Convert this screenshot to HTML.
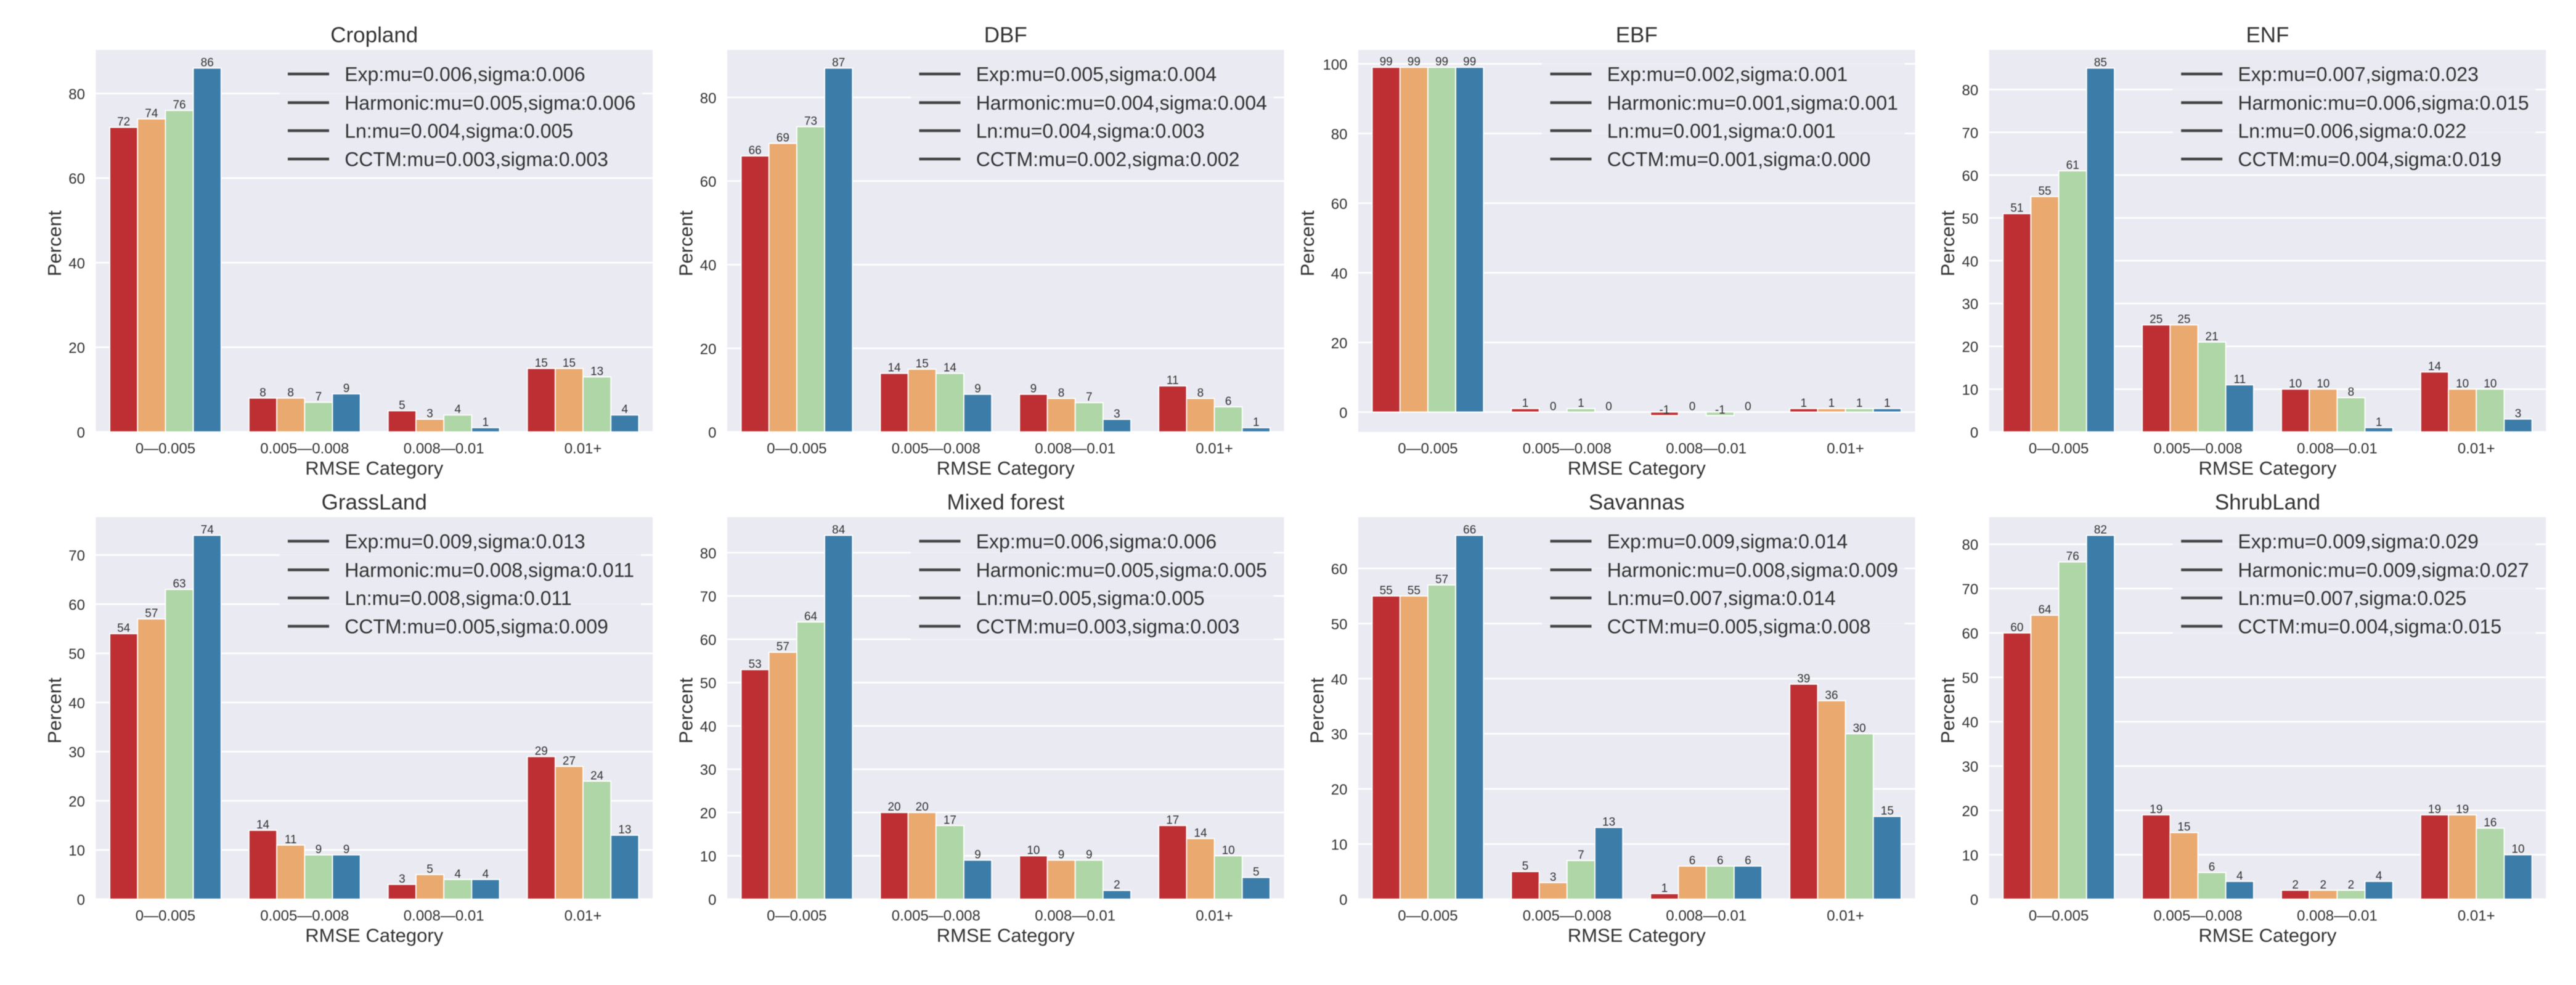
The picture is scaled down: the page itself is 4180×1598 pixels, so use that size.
<!DOCTYPE html>
<html lang="en">
<head>
<meta charset="utf-8">
<title>RMSE Category distributions by land cover</title>
<style>
html,body{margin:0;padding:0;background:#fff;}
#figure{display:block;width:4180px;height:1598px;font-family:"Liberation Sans",sans-serif;filter:blur(0.6px);}
text{fill:#333;font-family:"Liberation Sans",sans-serif;}
</style>
</head>
<body>
<svg id="figure" xmlns="http://www.w3.org/2000/svg" width="4180" height="1598" viewBox="0 0 4180 1598">
<rect x="0" y="0" width="4180" height="1598" fill="#ffffff"></rect>
</svg>
<script>
const categories = ["0—0.005", "0.005—0.008", "0.008—0.01", "0.01+"];
const seriesNames = ["Exp", "Harmonic", "Ln", "CCTM"];
const panelTitles = ["Cropland", "DBF", "EBF", "ENF", "GrassLand", "Mixed forest", "Savannas", "ShrubLand"];

const croplandValues = [[72, 8, 5, 15], [74, 8, 3, 15], [76, 7, 4, 13], [86, 9, 1, 4]];
const dbfValues = [[66, 14, 9, 11], [69, 15, 8, 8], [73, 14, 7, 6], [87, 9, 3, 1]];
const ebfValues = [[99, 1, -1, 1], [99, 0, 0, 1], [99, 1, -1, 1], [99, 0, 0, 1]];
const enfValues = [[51, 25, 10, 14], [55, 25, 10, 10], [61, 21, 8, 10], [85, 11, 1, 3]];
const grasslandValues = [[54, 14, 3, 29], [57, 11, 5, 27], [63, 9, 4, 24], [74, 9, 4, 13]];
const mixedForestValues = [[53, 20, 10, 17], [57, 20, 9, 14], [64, 17, 9, 10], [84, 9, 2, 5]];
const savannasValues = [[55, 5, 1, 39], [55, 3, 6, 36], [57, 7, 6, 30], [66, 13, 6, 15]];
const shrublandValues = [[60, 19, 2, 19], [64, 15, 2, 19], [76, 6, 2, 16], [82, 4, 4, 10]];
const panelValues = [croplandValues, dbfValues, ebfValues, enfValues, grasslandValues, mixedForestValues, savannasValues, shrublandValues];

const croplandTicks = [0, 20, 40, 60, 80];
const dbfTicks = [0, 20, 40, 60, 80];
const ebfTicks = [0, 20, 40, 60, 80, 100];
const enfTicks = [0, 10, 20, 30, 40, 50, 60, 70, 80];
const grasslandTicks = [0, 10, 20, 30, 40, 50, 60, 70];
const mixedForestTicks = [0, 10, 20, 30, 40, 50, 60, 70, 80];
const savannasTicks = [0, 10, 20, 30, 40, 50, 60];
const shrublandTicks = [0, 10, 20, 30, 40, 50, 60, 70, 80];
const panelTicks = [croplandTicks, dbfTicks, ebfTicks, enfTicks, grasslandTicks, mixedForestTicks, savannasTicks, shrublandTicks];

const croplandLegend = ["Exp:mu=0.006,sigma:0.006", "Harmonic:mu=0.005,sigma:0.006", "Ln:mu=0.004,sigma:0.005", "CCTM:mu=0.003,sigma:0.003"];
const dbfLegend = ["Exp:mu=0.005,sigma:0.004", "Harmonic:mu=0.004,sigma:0.004", "Ln:mu=0.004,sigma:0.003", "CCTM:mu=0.002,sigma:0.002"];
const ebfLegend = ["Exp:mu=0.002,sigma:0.001", "Harmonic:mu=0.001,sigma:0.001", "Ln:mu=0.001,sigma:0.001", "CCTM:mu=0.001,sigma:0.000"];
const enfLegend = ["Exp:mu=0.007,sigma:0.023", "Harmonic:mu=0.006,sigma:0.015", "Ln:mu=0.006,sigma:0.022", "CCTM:mu=0.004,sigma:0.019"];
const grasslandLegend = ["Exp:mu=0.009,sigma:0.013", "Harmonic:mu=0.008,sigma:0.011", "Ln:mu=0.008,sigma:0.011", "CCTM:mu=0.005,sigma:0.009"];
const mixedForestLegend = ["Exp:mu=0.006,sigma:0.006", "Harmonic:mu=0.005,sigma:0.005", "Ln:mu=0.005,sigma:0.005", "CCTM:mu=0.003,sigma:0.003"];
const savannasLegend = ["Exp:mu=0.009,sigma:0.014", "Harmonic:mu=0.008,sigma:0.009", "Ln:mu=0.007,sigma:0.014", "CCTM:mu=0.005,sigma:0.008"];
const shrublandLegend = ["Exp:mu=0.009,sigma:0.029", "Harmonic:mu=0.009,sigma:0.027", "Ln:mu=0.007,sigma:0.025", "CCTM:mu=0.004,sigma:0.015"];
const panelLegends = [croplandLegend, dbfLegend, ebfLegend, enfLegend, grasslandLegend, mixedForestLegend, savannasLegend, shrublandLegend];

const SERIES_COLORS = ["#BE2F33", "#EAAA6F", "#AFD6A6", "#3C7CA8"];
const PANEL_LEFTS = [155.5, 1180, 2204, 3227.7];
const PANEL_TOPS = [81, 839];
const PANEL_W = 903.5;
const PANEL_H = 619.7;
const LEGEND_ROWS = [39, 85.5, 131, 177];
const SVGNS = "http://www.w3.org/2000/svg";
const root = document.getElementById("figure");

function make(parent, tag, props, content) {
  const el = document.createElementNS(SVGNS, tag);
  for (const key in props) el.setAttribute(key, props[key]);
  if (content !== undefined) el.textContent = content;
  parent.appendChild(el);
  return el;
}
function slug(s) {
  return s.toLowerCase().replace(/[^a-z0-9]+/g, "-");
}
function yDomain(values) {
  const flat = values.flat();
  const max = Math.max(...flat);
  const min = Math.min(...flat);
  if (min < 0) {
    const range = max - min;
    return [min - 0.047 * range, max + 0.05 * range];
  }
  return [0, max * 1.05];
}

panelTitles.forEach(function (title, p) {
  const left = PANEL_LEFTS[p % 4];
  const top = PANEL_TOPS[Math.floor(p / 4)];
  const bottom = top + PANEL_H;
  const values = panelValues[p];
  const ticks = panelTicks[p];
  const domain = yDomain(values);
  const y = function (v) { return bottom - (v - domain[0]) / (domain[1] - domain[0]) * PANEL_H; };
  const catW = PANEL_W / categories.length;
  const barW = catW * 0.8 / seriesNames.length;
  const x = function (c, s) { return left + catW * (c + 0.1) + barW * s; };
  const key = slug(title);

  const g = make(root, "g", {});
  
  

  const bg = make(g, "rect", { x: left, y: top, width: PANEL_W, height: PANEL_H, fill: "#EAEAF2" });
  
  

  const titleEl = make(g, "text", { x: left + PANEL_W / 2, y: top - 12.5, "text-anchor": "middle", "font-size": 35 }, title);
  
  

  ticks.forEach(function (t) {
    const line = make(g, "line", { x1: left, x2: left + PANEL_W, y1: y(t), y2: y(t), stroke: "#ffffff", "stroke-width": 2.6 });
    
    
    const label = make(g, "text", { x: left - 17.5, y: y(t) + 9.3, "text-anchor": "end", "font-size": 24 }, String(t));
    
    
  });

  seriesNames.forEach(function (name, s) {
    categories.forEach(function (cat, c) {
      const v = values[s][c];
      const y0 = y(0);
      const yv = y(v);
      const bar = make(g, "rect", {
        x: x(c, s), y: Math.min(y0, yv), width: barW, height: Math.abs(y0 - yv),
        fill: SERIES_COLORS[s], stroke: "#ffffff", "stroke-width": 1.8
      });
      
      
      const lab = make(g, "text", { x: x(c, s) + barW / 2, y: yv - 3, "text-anchor": "middle", "font-size": 19 }, String(v));
      
      
    });
  });

  categories.forEach(function (cat, c) {
    const tl = make(g, "text", { x: left + catW * (c + 0.5), y: bottom + 35, "text-anchor": "middle", "font-size": 24 }, cat);
    
    
  });

  const xTitle = make(g, "text", { x: left + PANEL_W / 2, y: bottom + 69.5, "text-anchor": "middle", "font-size": 31 }, "RMSE Category");
  
  

  const yTitleX = left - (Math.max(...ticks) >= 100 ? 72 : 56.5);
  const yTitleY = top + PANEL_H / 2 + 4;
  const yTitle = make(g, "text", { x: yTitleX, y: yTitleY, "text-anchor": "middle", "font-size": 31, transform: "rotate(-90 " + yTitleX + " " + yTitleY + ")" }, "Percent");
  
  

  const legend = make(g, "g", {});
  
  
  const frame = make(legend, "rect", { x: left + 298, y: top + 9, width: 580, height: 190, fill: "#EAEAF2", "fill-opacity": 0.8 });
  
  
  let longest = 0;
  panelLegends[p].forEach(function (entry, s) {
    const ly = top + LEGEND_ROWS[s];
    const handle = make(legend, "line", { x1: left + 311.5, x2: left + 378.5, y1: ly, y2: ly, stroke: "#444444", "stroke-width": 4.6 });
    
    
    const txt = make(legend, "text", { x: left + 403.7, y: ly + 11.5, "font-size": 32 }, entry);
    
    
    longest = Math.max(longest, txt.getComputedTextLength());
  });
  frame.setAttribute("width", 105.7 + longest + 11);
});
</script>
</body>
</html>
